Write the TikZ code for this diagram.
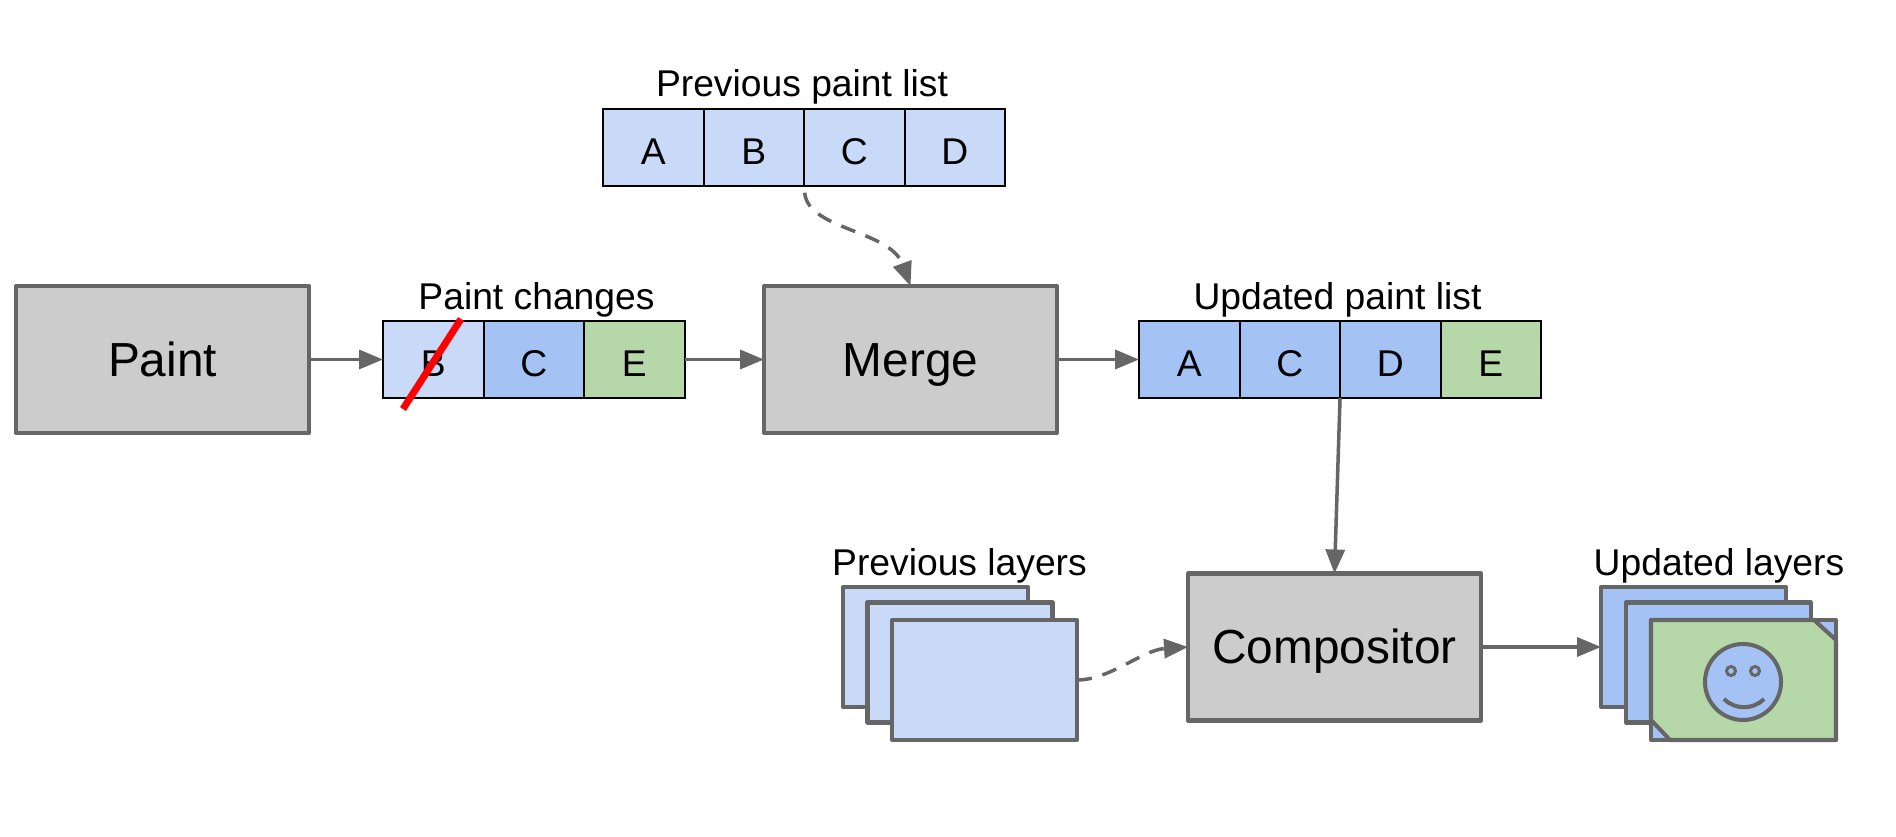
\documentclass[tikz,border=0pt]{standalone}
\usepackage{fontspec}
\setmainfont{Liberation Sans}
\usetikzlibrary{arrows.meta}
\definecolor{boxgray}{HTML}{CCCCCC}
\definecolor{linegray}{HTML}{666666}
\definecolor{oldblue}{HTML}{C9DAF8}
\definecolor{newblue}{HTML}{A4C2F4}
\definecolor{newgreen}{HTML}{B6D7A8}
\tikzset{
  stage/.style={draw=linegray, fill=boxgray, line width=1.15pt, line join=round, outer sep=0pt, minimum width=2.93cm, minimum height=1.47cm, inner sep=0pt, text height=.44cm, text depth=.10cm, font=\fontsize{13.6}{16}\selectfont},
  cell/.style={draw=black, line width=.55pt, outer sep=0pt, minimum width=1.005cm, minimum height=.765cm, inner sep=0pt, text height=.35cm, text depth=0cm, font=\fontsize{10.6}{13}\selectfont},
  caption/.style={anchor=base, inner sep=0pt, font=\fontsize{10.6}{13}\selectfont},
  sheet/.style={draw=linegray, line width=1.15pt, line join=round, outer sep=0pt, minimum width=1.85cm, minimum height=1.2cm, inner sep=0pt},
  link/.style={draw=linegray, line width=1pt, -{Triangle[length=.24cm,width=.19cm]}},
  dashlink/.style={link, dash pattern=on .15cm off .11cm}
}
\begin{document}
\begin{tikzpicture}
\useasboundingbox (0, 0) rectangle (18.96, 8.37);
\node[caption](prevlabel) at (8.02, 7.40) {Previous paint list};
\node[cell, fill=oldblue](prevA) at (6.533, 6.895) {A};
\node[cell, fill=oldblue](prevB) at (7.538, 6.895) {B};
\node[cell, fill=oldblue](prevC) at (8.543, 6.895) {C};
\node[cell, fill=oldblue](prevD) at (9.548, 6.895) {D};
\node[stage](paint) at (1.625, 4.775) {Paint};
\node[caption](chglabel) at (5.365, 5.27) {Paint changes};
\node[cell, fill=oldblue](chgB) at (4.333, 4.775) {B};
\node[cell, fill=newblue](chgC) at (5.338, 4.775) {C};
\node[cell, fill=newgreen](chgE) at (6.343, 4.775) {E};
\node[stage](merge) at (9.105, 4.775) {Merge};
\node[caption](updlabel) at (13.375, 5.27) {Updated paint list};
\node[cell, fill=newblue](updA) at (11.893, 4.775) {A};
\node[cell, fill=newblue](updC) at (12.898, 4.775) {C};
\node[cell, fill=newblue](updD) at (13.903, 4.775) {D};
\node[cell, fill=newgreen](updE) at (14.908, 4.775) {E};
\node[stage](compositor) at (13.345, 1.9) {Compositor};
\node[caption](oldlabel) at (9.595, 2.615) {Previous layers};
\node[sheet, fill=oldblue](old1) at (9.355, 1.9) {};
\node[sheet, fill=oldblue](old2) at (9.6, 1.745) {};
\node[sheet, fill=oldblue](old3) at (9.845, 1.57) {};
\node[caption](newlabel) at (17.19, 2.615) {Updated layers};
\node[sheet, fill=newblue](new1) at (16.935, 1.9) {};
\node[sheet, fill=newblue](new2) at (17.185, 1.745) {};
\node[sheet, fill=newblue](new3) at (17.435, 1.57) {};
\draw[linegray, fill=newgreen, line width=1.15pt, line join=round] (new3.north west) -- (18.14, 2.17) -- (18.36, 1.97) -- (new3.south east) -- (16.70, 0.97) -- (16.51, 1.17) -- cycle;
\node[circle, draw=linegray, fill=newblue, line width=1.15pt, minimum size=.76cm, inner sep=0pt](face) at (17.43, 1.55) {};
\node[circle, draw=linegray, line width=.85pt, minimum size=.09cm, inner sep=0pt](eyeL) at (17.31, 1.66) {};
\node[circle, draw=linegray, line width=.85pt, minimum size=.09cm, inner sep=0pt](eyeR) at (17.55, 1.66) {};
\draw[linegray, line width=1.15pt] (17.24, 1.38) .. controls (17.35, 1.27) and (17.53, 1.27) .. (17.64, 1.38);
\coordinate (strikeS) at (4.03, 4.28);
\coordinate (strikeE) at (4.61, 5.18);
\draw[red, line width=2pt] (strikeS) -- (strikeE);
\draw[link] (paint) -- (chgB);
\draw[link] (chgE) -- (merge);
\draw[link] (merge) -- (updA);
\draw[link] (updD.south west) -- (compositor.north);
\draw[link] (compositor) -- (new1.west |- compositor);
\draw[dashlink, shorten <=.07cm] (prevC.south west) .. controls (8.08, 6.07) and (8.90, 6.07) .. (merge.north);
\draw[dashlink] (old3.east) .. controls (11.10, 1.57) and (11.42, 1.87) .. (compositor.west);
\end{tikzpicture}
\end{document}
